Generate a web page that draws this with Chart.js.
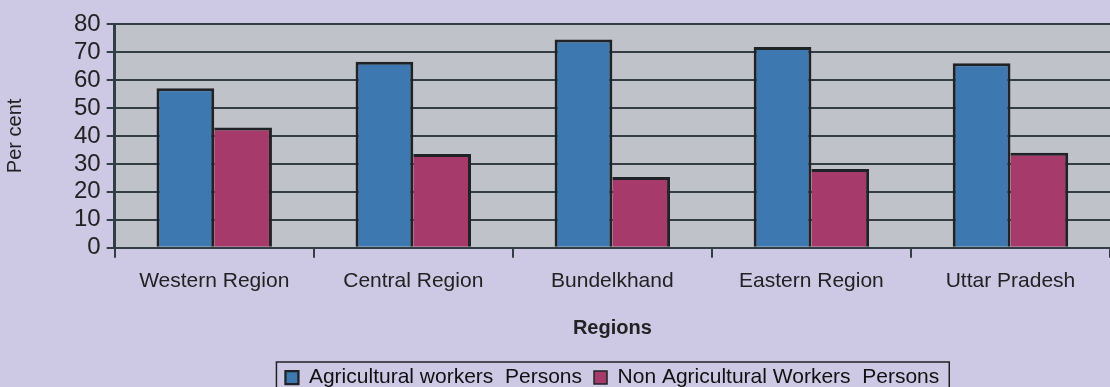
<!DOCTYPE html>
<html>
<head>
<meta charset="utf-8">
<script src="https://cdn.jsdelivr.net/npm/chart.js@4"></script>
<style>
  html, body { margin: 0; padding: 0; background: #cdc8e4; }
  #wrap { width: 1110px; height: 387px; }
</style>
</head>
<body>
<div id="wrap"><canvas id="graphique"></canvas></div>
<script>
const regions = ['Western Region', 'Central Region', 'Bundelkhand', 'Eastern Region', 'Uttar Pradesh']
const agricultural = [57, 66.5, 74.5, 71.8, 66]
const nonAgricultural = [43, 33.5, 25.3, 28.2, 34]
const yTicks = [0, 10, 20, 30, 40, 50, 60, 70, 80]

const fond_plot = {
    id: 'fond_plot',
    beforeDraw(chart){
        const {ctx, chartArea} = chart
        ctx.save()
        ctx.fillStyle = '#c0c2ca'
        ctx.fillRect(chartArea.left, chartArea.top, chartArea.right - chartArea.left, chartArea.bottom - chartArea.top)
        ctx.restore()
    }
}

const cadre_legende = {
    id: 'cadre_legende',
    afterDraw(chart){
        const boxes = chart.legend.legendHitBoxes
        if (!boxes || !boxes.length) return
        const left = Math.min(...boxes.map(b => b.left)) - 9
        const right = Math.max(...boxes.map(b => b.left + b.width)) + 10
        const top = boxes[0].top - 5
        const ctx = chart.ctx
        ctx.save()
        ctx.strokeStyle = '#222'
        ctx.lineWidth = 1.5
        ctx.strokeRect(left, top, right - left, 60)
        ctx.restore()
    }
}

const police = 'Liberation Sans'

const config = {
    type: 'bar',
    data: {
        labels: regions,
        datasets: [{
            label: 'Agricultural workers  Persons',
            data: agricultural,
            backgroundColor: 'rgb(61, 121, 176)',
            borderColor: '#202326',
            borderWidth: {top: 3, left: 3, right: 3, bottom: 0},
            borderSkipped: 'bottom'
        }, {
            label: 'Non Agricultural Workers  Persons',
            data: nonAgricultural,
            backgroundColor: 'rgb(166, 58, 106)',
            borderColor: '#202326',
            borderWidth: {top: 3, left: 0, right: 3, bottom: 0},
            borderSkipped: 'bottom'
        }]
    },
    options: {
        responsive: true,
        maintainAspectRatio: false,
        animation: false,
        layout: {padding: {top: 24, right: 0, left: 3, bottom: -11}},
        datasets: {bar: {categoryPercentage: 0.58, barPercentage: 1}},
        plugins: {
            tooltip: {enabled: false},
            legend: {
                position: 'bottom',
                fullSize: false,
                labels: {
                    color: '#111',
                    font: {family: police, size: 21},
                    boxWidth: 13,
                    boxHeight: 13,
                    padding: 12
                }
            }
        },
        scales: {
            x: {
                grid: {
                    offset: true,
                    drawOnChartArea: false,
                    drawTicks: true,
                    tickLength: 10,
                    color: '#333d45',
                    lineWidth: 2
                },
                border: {color: '#333d45', width: 2},
                ticks: {
                    color: '#222',
                    font: {family: police, size: 21},
                    padding: 11
                },
                title: {
                    display: true,
                    text: 'Regions',
                    color: '#222',
                    font: {family: police, size: 20, weight: 'bold'},
                    padding: {top: 11, bottom: 15}
                }
            },
            y: {
                min: 0,
                max: 80,
                afterBuildTicks(axis){
                    axis.ticks = yTicks.map(v => ({value: v}))
                },
                grid: {
                    color: '#333d45',
                    lineWidth: 2,
                    tickLength: 8
                },
                border: {color: '#333d45', width: 3},
                ticks: {
                    color: '#222',
                    font: {family: police, size: 24},
                    padding: 6,
                    autoSkip: false
                },
                title: {
                    display: true,
                    text: 'Per cent',
                    color: '#222',
                    font: {family: police, size: 20},
                    padding: {top: 0, bottom: 41}
                }
            }
        }
    },
    plugins: [fond_plot, cadre_legende]
}

new Chart(document.getElementById('graphique'), config)
</script>
</body>
</html>
